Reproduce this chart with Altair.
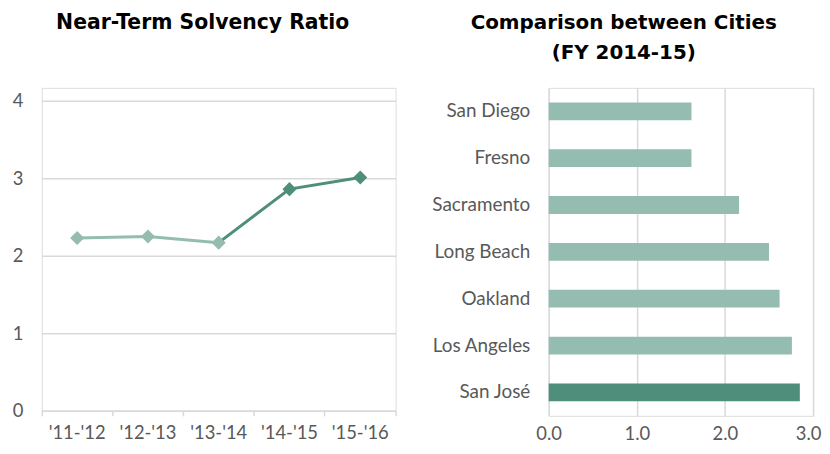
import altair as alt
import pandas as pd

# ---- data ----
periods = ["'11-'12", "'12-'13", "'13-'14", "'14-'15", "'15-'16"]
ratios = [2.23, 2.25, 2.17, 2.86, 3.01]
period_tone = ["light", "light", "light", "dark", "dark"]
light_segment = [0, 1, 2]
dark_segment = [2, 3, 4]

cities = ["San Diego", "Fresno", "Sacramento", "Long Beach", "Oakland", "Los Angeles", "San José"]
city_values = [1.62, 1.62, 2.16, 2.50, 2.62, 2.76, 2.85]
city_tone = ["light", "light", "light", "light", "light", "light", "dark"]
bar_ticks = [0, 1, 2, 3]

LIGHT = "#95BCB1"
DARK = "#4E8E7B"
GRID = "#D9D9D9"
LABEL = "#595959"
FONT = "Lato"
TITLE_FONT = "DejaVu Sans"

pts = pd.DataFrame({"period": periods, "ratio": ratios, "tone": period_tone})
seg_light = pts.iloc[light_segment]
seg_dark = pts.iloc[dark_segment]

tone_scale = alt.Scale(domain=["light", "dark"], range=[LIGHT, DARK])

x_enc = alt.X(
    "period:N", sort=periods, bandPosition=0.5,
    scale=alt.Scale(type="band", paddingInner=0, paddingOuter=0),
    axis=alt.Axis(title=None, labelAngle=0, domain=True, domainColor=GRID, domainWidth=1.5,
                  ticks=True, tickColor=GRID, tickWidth=1.5, tickSize=5, bandPosition=1,
                  tickExtra=True, labelPadding=8, labelFont=FONT, labelFontSize=18.5,
                  labelColor=LABEL, grid=False),
)
y_enc = alt.Y(
    "ratio:Q", scale=alt.Scale(domain=[0, 4.1667], nice=False, zero=True),
    axis=alt.Axis(title=None, values=[0, 1, 2, 3, 4], grid=True, gridColor=GRID, gridWidth=1.5,
                  domain=False, ticks=False, labelPadding=19, minExtent=33, maxExtent=33,
                  labelFont=FONT, labelFontSize=18.5, labelColor=LABEL),
)

line_light = alt.Chart(seg_light).mark_line(color=LIGHT, strokeWidth=3).encode(x=x_enc, y=y_enc)
line_dark = alt.Chart(seg_dark).mark_line(color=DARK, strokeWidth=3).encode(x=x_enc, y=y_enc)
markers = alt.Chart(pts).mark_point(shape="diamond", filled=True, size=200, opacity=1).encode(
    x=x_enc, y=y_enc, color=alt.Color("tone:N", scale=tone_scale, legend=None)
)

left = alt.layer(line_light, line_dark, markers).properties(
    width=356, height=325,
    title=alt.TitleParams("Near-Term Solvency Ratio", font=TITLE_FONT, fontSize=20.5, fontWeight="bold",
                          color="black", anchor="middle", frame="bounds", offset=55),
)

bars_df = pd.DataFrame({"city": cities, "value": city_values, "tone": city_tone})
last_tick = bar_ticks[-1]
right = alt.Chart(bars_df).mark_bar().encode(
    y=alt.Y("city:N", sort=cities,
            scale=alt.Scale(paddingInner=0.62, paddingOuter=0.31),
            axis=alt.Axis(title=None, domain=False, ticks=False, labelPadding=19,
                          minExtent=123, maxExtent=123,
                          labelFont=FONT, labelFontSize=19, labelColor=LABEL)),
    x=alt.X("value:Q", scale=alt.Scale(domain=[0, 3], nice=False),
            axis=alt.Axis(title=None, values=bar_ticks, format=".1f", grid=True,
                          gridColor=GRID, gridWidth=1.5, domain=False, ticks=False,
                          labelFlush=False,
                          labelAlign={"condition": {"test": f"datum.value == {last_tick}", "value": "right"},
                                      "value": "center"},
                          labelOffset={"condition": {"test": f"datum.value == {last_tick}", "value": 8},
                                       "value": 0},
                          labelPadding=8.5, labelFont=FONT, labelFontSize=18.5, labelColor=LABEL)),
    color=alt.Color("tone:N", scale=tone_scale, legend=None),
).properties(
    width=266, height=330,
    title=alt.TitleParams(["Comparison between Cities", "(FY 2014-15)"], font=TITLE_FONT, fontSize=20,
                          fontWeight="bold", color="black", anchor="middle", frame="bounds",
                          offset=25.5, lineHeight=30),
)

chart = alt.hconcat(left, right, spacing=28).properties(
    padding={"left": 0, "top": 3, "right": 0, "bottom": 0}
).configure_view(stroke=None).configure(background="white")

chart.save("out.html", embed_options={"renderer": "svg", "actions": False})
